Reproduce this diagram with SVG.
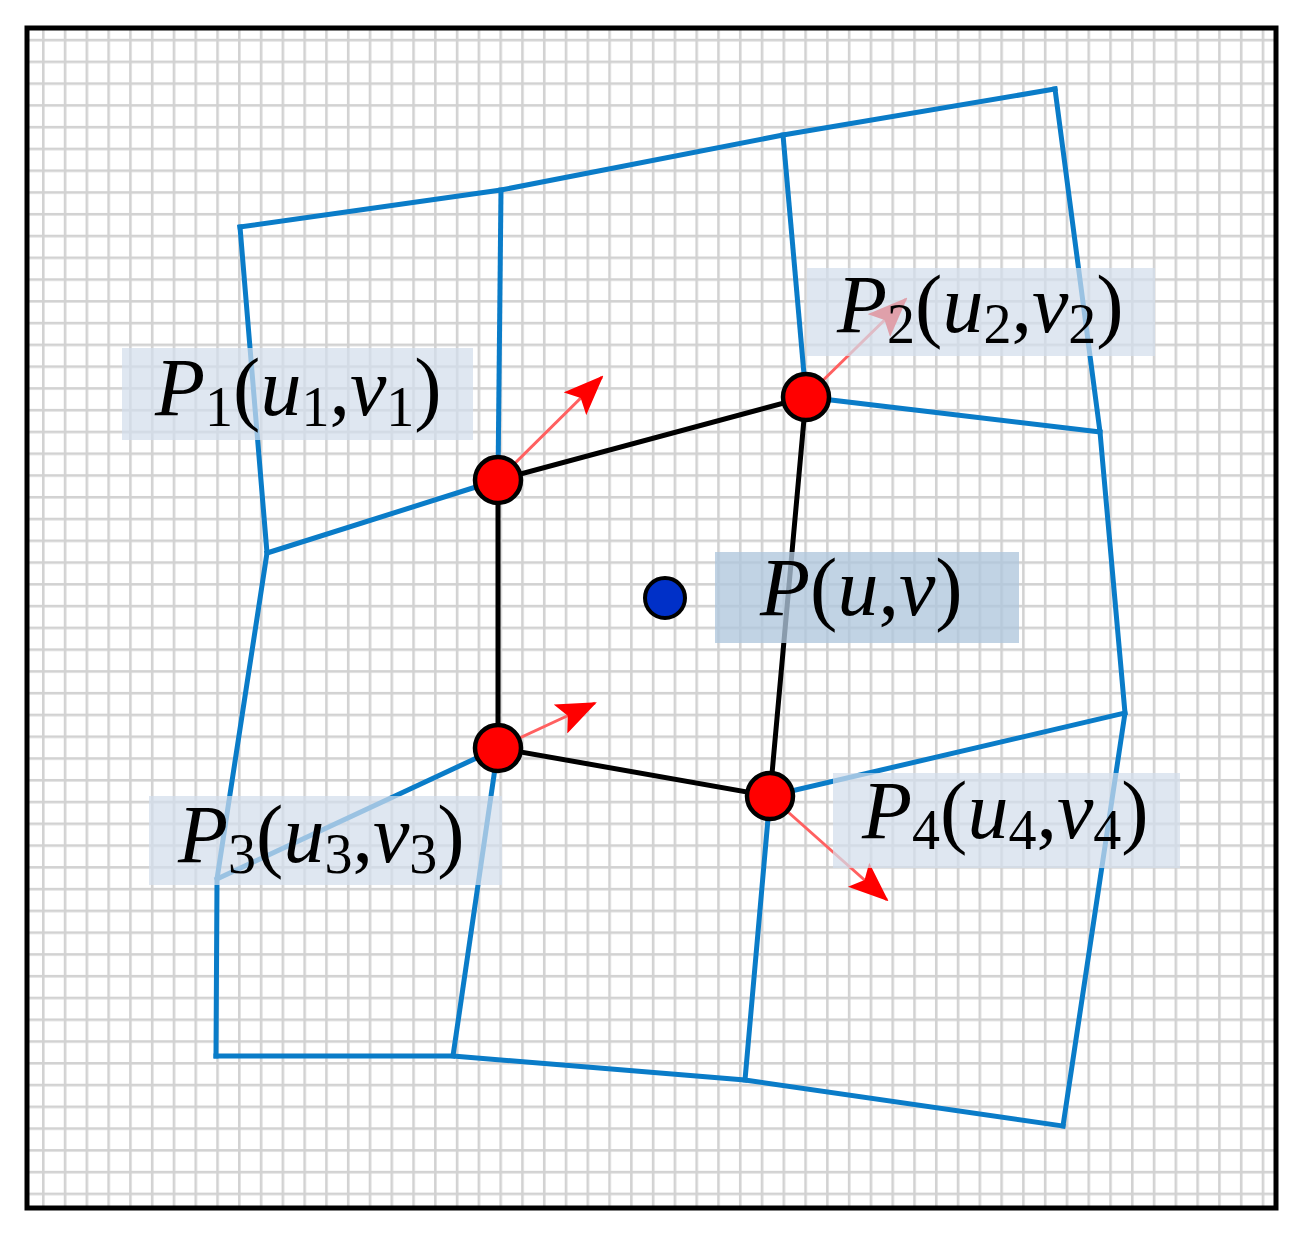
<svg xmlns="http://www.w3.org/2000/svg" width="1298" height="1241" viewBox="0 0 1298 1241">
<defs>
<pattern id="grid" patternUnits="userSpaceOnUse" x="42" y="38.8" width="21.78" height="21.77">
<rect x="0" y="0" width="2.6" height="21.77" fill="#d2d2d2"/>
<rect x="0" y="0" width="21.78" height="2.6" fill="#d2d2d2"/>
</pattern>
<marker id="ah" viewBox="0 0 40 32" refX="38" refY="16" markerUnits="userSpaceOnUse" markerWidth="40" markerHeight="32" orient="auto">
<path d="M0,0 L40,16 L0,32 L8,16 z" fill="#ff0000"/>
</marker>
<style>
.mesh{fill:none;stroke:#0a7cc8;stroke-width:5;stroke-linejoin:miter;stroke-linecap:square}
.quad{fill:none;stroke:#000;stroke-width:5}
.arr{stroke:#ff6060;stroke-width:3;fill:none;marker-end:url(#ah)}
.node{fill:#ff0000;stroke:#000;stroke-width:4.5}
.box{fill:#d3deec;opacity:0.72}
.boxp{fill:#afc6dd;opacity:0.78}
.lbl{font-family:"Liberation Serif","Times New Roman",serif;font-size:82px;fill:#000}
.i{font-style:italic}
.sub{font-size:56px}
</style>
</defs>
<rect width="1298" height="1241" fill="#fff"/>
<rect x="27" y="28" width="1249" height="1180" fill="url(#grid)"/>
<rect x="27" y="28" width="1249" height="1180" fill="none" stroke="#000" stroke-width="5"/>

<g id="connectors">
<g id="mesh">
<path class="mesh" d="M240,227 L501,190 L783,135 L1055,89"/>
<path class="mesh" d="M240,227 L267,553 L217,879 L216,1056"/>
<path class="mesh" d="M267,553 L498,480"/>
<path class="mesh" d="M806,397 L1100,432"/>
<path class="mesh" d="M1055,89 L1100,432 L1125,713 L1063,1126"/>
<path class="mesh" d="M217,879 L498,748"/>
<path class="mesh" d="M770,796 L1125,713"/>
<path class="mesh" d="M216,1056 L453,1056 L745,1080 L1063,1126"/>
<path class="mesh" d="M501,190 L498,480"/>
<path class="mesh" d="M498,748 L453,1056"/>
<path class="mesh" d="M783,135 L806,397"/>
<path class="mesh" d="M770,796 L745,1080"/>
</g>
<g id="quad">
<path class="quad" d="M498,480 L806,397 L770,796 L498,748 Z"/>
</g>
<g id="arrows">
<path class="arr" d="M498,480 L602,377"/>
<path class="arr" d="M806,397 L906,299"/>
<path class="arr" d="M498,748 L595,703"/>
<path class="arr" d="M770,796 L887,900"/>
</g>
</g>

<g id="node-P1"><circle class="node" cx="498" cy="480" r="23"/></g>
<g id="node-P2"><circle class="node" cx="806" cy="397" r="23"/></g>
<g id="node-P3"><circle class="node" cx="498" cy="748" r="23"/></g>
<g id="node-P4"><circle class="node" cx="770" cy="796" r="23"/></g>
<g id="node-P"><circle cx="665" cy="598" r="20" fill="#0030c8" stroke="#000" stroke-width="4"/></g>

<g id="label-P1">
<rect class="box" x="122" y="348" width="351" height="92"/>
<text class="lbl" x="155" y="415"><tspan class="i">P</tspan><tspan class="sub" dy="11">1</tspan><tspan dy="-11">(</tspan><tspan class="i">u</tspan><tspan class="sub" dy="11">1</tspan><tspan dy="-11">,</tspan><tspan class="i">v</tspan><tspan class="sub" dy="11">1</tspan><tspan dy="-11">)</tspan></text>
</g>
<g id="label-P2">
<rect class="box" x="807" y="268" width="348" height="88"/>
<text class="lbl" x="837" y="332"><tspan class="i">P</tspan><tspan class="sub" dy="11">2</tspan><tspan dy="-11">(</tspan><tspan class="i">u</tspan><tspan class="sub" dy="11">2</tspan><tspan dy="-11">,</tspan><tspan class="i">v</tspan><tspan class="sub" dy="11">2</tspan><tspan dy="-11">)</tspan></text>
</g>
<g id="label-P">
<rect class="boxp" x="715" y="552" width="304" height="91"/>
<text class="lbl" x="760" y="615"><tspan class="i">P</tspan>(<tspan class="i">u</tspan>,<tspan class="i">v</tspan>)</text>
</g>
<g id="label-P3">
<rect class="box" x="149" y="796" width="353" height="89"/>
<text class="lbl" x="178" y="862"><tspan class="i">P</tspan><tspan class="sub" dy="11">3</tspan><tspan dy="-11">(</tspan><tspan class="i">u</tspan><tspan class="sub" dy="11">3</tspan><tspan dy="-11">,</tspan><tspan class="i">v</tspan><tspan class="sub" dy="11">3</tspan><tspan dy="-11">)</tspan></text>
</g>
<g id="label-P4">
<rect class="box" x="833" y="773" width="347" height="95"/>
<text class="lbl" x="862" y="838"><tspan class="i">P</tspan><tspan class="sub" dy="11">4</tspan><tspan dy="-11">(</tspan><tspan class="i">u</tspan><tspan class="sub" dy="11">4</tspan><tspan dy="-11">,</tspan><tspan class="i">v</tspan><tspan class="sub" dy="11">4</tspan><tspan dy="-11">)</tspan></text>
</g>
</svg>
